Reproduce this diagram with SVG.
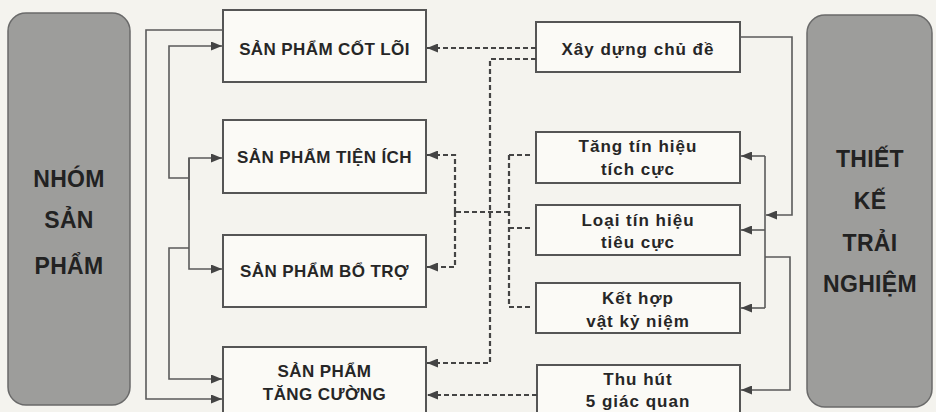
<svg xmlns="http://www.w3.org/2000/svg" width="936" height="412" viewBox="0 0 936 412">
<style>
.bg{fill:#f4f3ee}
.panel{fill:#9d9d9b;stroke:#6a6a6a;stroke-width:1.5}
.ptxt{font-family:"Liberation Sans",Arial,sans-serif;font-weight:bold;font-size:23px;fill:#222;text-anchor:middle;letter-spacing:0.3px}
.box{fill:#fbfaf6;stroke:#555;stroke-width:2}
.ltxt{font-family:"Liberation Sans",Arial,sans-serif;font-weight:bold;font-size:17px;fill:#262626;text-anchor:middle;letter-spacing:0.4px}
.rtxt{font-family:"Liberation Sans",Arial,sans-serif;font-weight:bold;font-size:17px;fill:#262626;text-anchor:middle;letter-spacing:1px}
.solid{fill:none;stroke:#5a5a5a;stroke-width:1.6}
.dash{fill:none;stroke:#444;stroke-width:2.2;stroke-dasharray:5 3}
</style>
<defs>
<marker id="ah" viewBox="0 0 11 9" refX="11" refY="4.5" markerWidth="11" markerHeight="9" markerUnits="userSpaceOnUse" orient="auto">
<path d="M0,0 L11,4.5 L0,9 z" fill="#444"/>
</marker>
</defs>
<rect class="bg" x="0" y="0" width="936" height="412"/>

<g id="nhom-san-pham">
<rect class="panel" x="8" y="13" width="122" height="392" rx="18"/>
<text class="ptxt" x="69" y="187">NHÓM</text>
<text class="ptxt" x="69" y="228">SẢN</text>
<text class="ptxt" x="69" y="274">PHẨM</text>
</g>

<g id="thiet-ke-trai-nghiem">
<rect class="panel" x="807" y="15" width="125" height="392" rx="18"/>
<text class="ptxt" x="870" y="167">THIẾT</text>
<text class="ptxt" x="870" y="209">KẾ</text>
<text class="ptxt" x="870" y="251">TRẢI</text>
<text class="ptxt" x="870" y="292">NGHIỆM</text>
</g>

<g id="cot-loi">
<rect class="box" x="223" y="10" width="203" height="72"/>
<text class="ltxt" x="324.5" y="55">SẢN PHẨM CỐT LÕI</text>
</g>
<g id="tien-ich">
<rect class="box" x="223" y="120" width="203" height="73"/>
<text class="ltxt" x="324.5" y="163">SẢN PHẨM TIỆN ÍCH</text>
</g>
<g id="bo-tro">
<rect class="box" x="223" y="235" width="203" height="72"/>
<text class="ltxt" x="324.5" y="277">SẢN PHẨM BỔ TRỢ</text>
</g>
<g id="tang-cuong">
<rect class="box" x="223" y="347" width="203" height="72"/>
<text class="ltxt" x="324.5" y="377">SẢN PHẨM</text>
<text class="ltxt" x="324.5" y="400">TĂNG CƯỜNG</text>
</g>

<g id="xay-dung">
<rect class="box" x="536" y="22" width="204" height="50"/>
<text class="rtxt" x="638" y="55">Xây dựng chủ đề</text>
</g>
<g id="tang-tin-hieu">
<rect class="box" x="536" y="132" width="204" height="51"/>
<text class="rtxt" x="638" y="152">Tăng tín hiệu</text>
<text class="rtxt" x="638" y="175">tích cực</text>
</g>
<g id="loai-tin-hieu">
<rect class="box" x="536" y="205" width="204" height="50"/>
<text class="rtxt" x="638" y="226">Loại tín hiệu</text>
<text class="rtxt" x="638" y="248">tiêu cực</text>
</g>
<g id="ket-hop">
<rect class="box" x="536" y="283" width="204" height="50"/>
<text class="rtxt" x="638" y="304">Kết hợp</text>
<text class="rtxt" x="638" y="327">vật kỷ niệm</text>
</g>
<g id="thu-hut">
<rect class="box" x="537" y="365" width="203" height="55"/>
<text class="rtxt" x="638" y="385">Thu hút</text>
<text class="rtxt" x="638" y="407">5 giác quan</text>
</g>

<g id="connectors">
<path class="solid" d="M223,30 H146 V399 H222" marker-end="url(#ah)"/>
<path class="solid" d="M189,178 H169 V46 H222" marker-end="url(#ah)"/>
<path class="solid" d="M189,200 V158 H222" marker-end="url(#ah)"/>
<path class="solid" d="M189,158 V269 H222" marker-end="url(#ah)"/>
<path class="solid" d="M189,248 H169 V379 H222" marker-end="url(#ah)"/>

<path class="dash" d="M536,48 H427" marker-end="url(#ah)"/>
<path class="dash" d="M536,59 H490 V363 H427" marker-end="url(#ah)"/>
<path class="dash" d="M509,212 H455"/>
<path class="dash" d="M455,212 V155 H427" marker-end="url(#ah)"/>
<path class="dash" d="M455,212 V267 H427" marker-end="url(#ah)"/>
<path class="dash" d="M509,155 V307"/>
<path class="dash" d="M509,155 H530"/>
<path class="dash" d="M509,228 H530"/>
<path class="dash" d="M509,307 H530"/>
<path class="dash" d="M537,395 H427" marker-end="url(#ah)"/>

<path class="solid" d="M740,37 H792 V215 H766" marker-end="url(#ah)"/>
<path class="solid" d="M765,156 V308"/>
<path class="solid" d="M765,156 H741" marker-end="url(#ah)"/>
<path class="solid" d="M765,230 H741" marker-end="url(#ah)"/>
<path class="solid" d="M765,308 H741" marker-end="url(#ah)"/>
<path class="solid" d="M765,257 H790 V390 H741" marker-end="url(#ah)"/>
</g>
</svg>
